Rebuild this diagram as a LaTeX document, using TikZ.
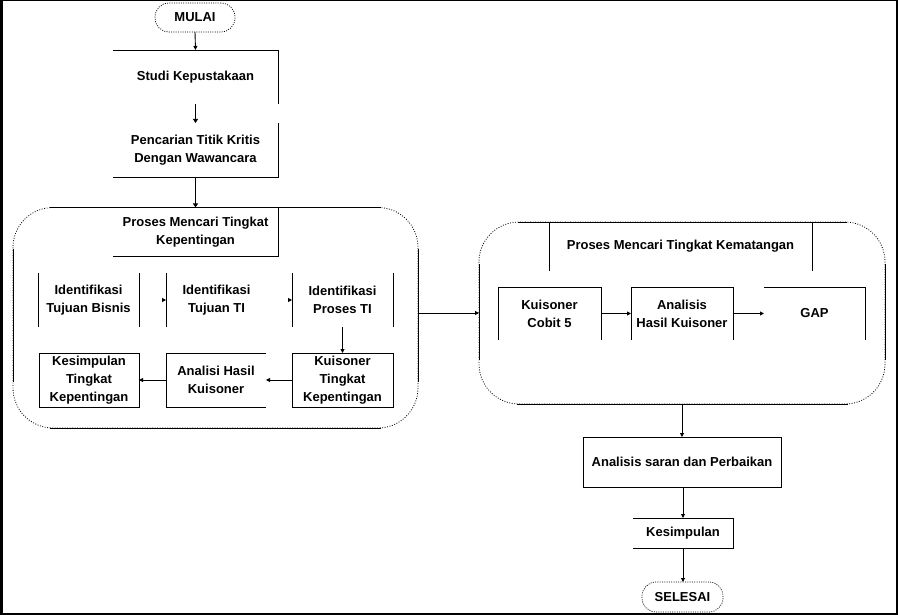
\documentclass[tikz,border=0pt]{standalone}
\usepackage{fontspec}
\setmainfont{Liberation Sans}
\usetikzlibrary{arrows.meta,calc}
\begin{document}
\begin{tikzpicture}[x=1pt,y=-1pt,
  every node/.style={inner sep=0pt,outer sep=0pt,font=\bfseries\fontsize{13pt}{18pt}\selectfont,align=center},
  blk/.style={rectangle},
  term/.style={rectangle,rounded corners=14pt,draw,line width=0.7pt,dash pattern=on 1pt off 1.3pt},
  ln/.style={line width=0.9pt},
  conn/.style={line width=0.9pt,-{Triangle[length=4pt,width=4pt]}},
  thickconn/.style={line width=1.7pt,-{Triangle[length=4pt,width=5pt]}},
  dotc/.style={line width=0.8pt,dash pattern=on 0.9pt off 1.6pt}
]
\useasboundingbox (0,0) rectangle (898,615);
% frame
\fill (0,0) rectangle (3.3,615);
\fill (895.7,0) rectangle (898,615);
\draw[line width=1pt] (0,0.5) -- (898,0.5);
\draw[line width=1.4pt] (0,614) -- (898,614);

% terminals
\node[term,minimum width=80pt,minimum height=29pt] (mulai) at (195,17.5) {MULAI};
\node[term,minimum width=81pt,minimum height=30pt] (selesai) at (682.5,597) {SELESAI};

% top chain
\node[blk,minimum width=165pt,minimum height=54pt] (studi) at (195.5,77) {Studi Kepustakaan};
\draw[ln] (studi.north west) -- (studi.north east) -- (studi.south east);
\node[blk,minimum width=165pt,minimum height=54pt] (pencarian) at (195.5,150) {Pencarian Titik Kritis\\Dengan Wawancara};
\draw[ln] (pencarian.north east) -- (pencarian.south east) -- (pencarian.south west);

% left container
\node[blk,minimum width=405pt,minimum height=220.5pt] (cont1) at (215.5,317.75) {};
\draw[dotc,rounded corners=40pt] (cont1.north west) rectangle (cont1.south east);
\draw[ln] ($(cont1.north west)+(37,0)$) -- ($(cont1.north east)+(-37,0)$);
\draw[ln] ($(cont1.south west)+(37,0)$) -- ($(cont1.south east)+(-37,0)$);
\draw[ln] ($(cont1.north west)+(0,42)$) -- ($(cont1.south west)+(0,-46)$);
\draw[ln] ($(cont1.north east)+(0,42)$) -- ($(cont1.south east)+(0,-46)$);

\node[blk,minimum width=165pt,minimum height=48.5pt] (proses1) at (195.5,232) {Proses Mencari Tingkat\\Kepentingan};
\draw[ln] (proses1.north east) -- (proses1.south east) -- (proses1.south west);

\node[blk,minimum width=101pt,minimum height=54pt] (id1) at (88.5,300) {Identifikasi\\Tujuan Bisnis};
\draw[ln] (id1.north west) -- (id1.south west);
\draw[ln] (id1.north east) -- (id1.south east);
\node[blk,minimum width=101pt,minimum height=54pt] (id2) at (216.5,300) {Identifikasi\\Tujuan TI};
\draw[ln] (id2.north west) -- (id2.south west);
\node[blk,minimum width=101pt,minimum height=54pt] (id3) at (342.5,300) {Identifikasi\\Proses TI};
\draw[ln] (id3.north west) -- (id3.south west);
\draw[ln] (id3.north east) -- (id3.south east);

\node[blk,draw,line width=0.9pt,minimum width=101pt,minimum height=54pt] (kuis1) at (342.5,380) {Kuisoner\\Tingkat\\Kepentingan};
\node[blk,minimum width=100pt,minimum height=54pt] (anal1) at (216,380) {Analisi Hasil\\Kuisoner};
\draw[ln] (anal1.north east) -- (anal1.north west) -- (anal1.south west) -- (anal1.south east);
\node[blk,draw,line width=0.9pt,minimum width=100pt,minimum height=54pt] (kes1) at (89,380) {Kesimpulan\\Tingkat\\Kepentingan};

% right container
\node[blk,minimum width=406pt,minimum height=182pt] (cont2) at (682,313) {};
\draw[dotc,rounded corners=40pt] (cont2.north west) rectangle (cont2.south east);
\draw[ln] ($(cont2.north west)+(39,0)$) -- ($(cont2.north east)+(-38,0)$);
\draw[ln] ($(cont2.south west)+(38,0)$) -- ($(cont2.south east)+(-37,0)$);
\draw[ln] ($(cont2.north west)+(0,42)$) -- ($(cont2.south west)+(0,-44)$);
\draw[ln] ($(cont2.north east)+(0,42)$) -- ($(cont2.south east)+(0,-44)$);

\node[blk,minimum width=263pt,minimum height=49pt] (proses2) at (680.5,246.5) {Proses Mencari Tingkat Kematangan};
\draw[ln] (proses2.north west) -- (proses2.south west);
\draw[ln] (proses2.north east) -- (proses2.south east);

\node[blk,minimum width=103pt,minimum height=53pt] (kc5) at (549.5,313.5) {Kuisoner\\Cobit 5};
\draw[ln] (kc5.south west) -- (kc5.north west) -- (kc5.north east) -- (kc5.south east);
\node[blk,minimum width=102pt,minimum height=53pt] (ahk) at (682,313.5) {Analisis\\Hasil Kuisoner};
\draw[ln] (ahk.south west) -- (ahk.north west) -- (ahk.north east) -- (ahk.south east);
\node[blk,minimum width=101pt,minimum height=53pt] (gap) at (814.5,313.5) {GAP};
\draw[ln] (gap.north west) -- (gap.north east) -- (gap.south east);

% bottom chain
\node[blk,draw,line width=0.9pt,minimum width=198pt,minimum height=50pt] (asp) at (682,462) {Analisis saran dan Perbaikan};
\node[blk,minimum width=100pt,minimum height=30pt] (kes2) at (683,533) {Kesimpulan};
\draw[ln] (kes2.north west) -- (kes2.north east) -- (kes2.south east) -- (kes2.south west);

% connectors
\draw[conn] (mulai.south) -- (studi.north);
\draw[thickconn] (studi.south) -- (pencarian.north);
\draw[thickconn] (pencarian.south) -- (cont1.north -| pencarian.south);
\draw[conn,shorten <=23pt] (id1.east) -- (id2.west);
\draw[conn,shorten <=21pt] (id2.east) -- (id3.west);
\draw[conn] (id3.south) -- (kuis1.north);
\draw[conn] (kuis1.west) -- (anal1.east);
\draw[conn] (anal1.west) -- (kes1.east);
\draw[conn] (cont1.east |- cont2.west) -- (cont2.west);
\draw[conn] (kc5.east) -- (ahk.west);
\draw[conn] (ahk.east) -- (gap.west);
\draw[conn] (cont2.south) -- (asp.north);
\draw[conn] (asp.south -| kes2.north) -- (kes2.north);
\draw[conn] (kes2.south) -- (selesai.north -| kes2.south);
\end{tikzpicture}
\end{document}
